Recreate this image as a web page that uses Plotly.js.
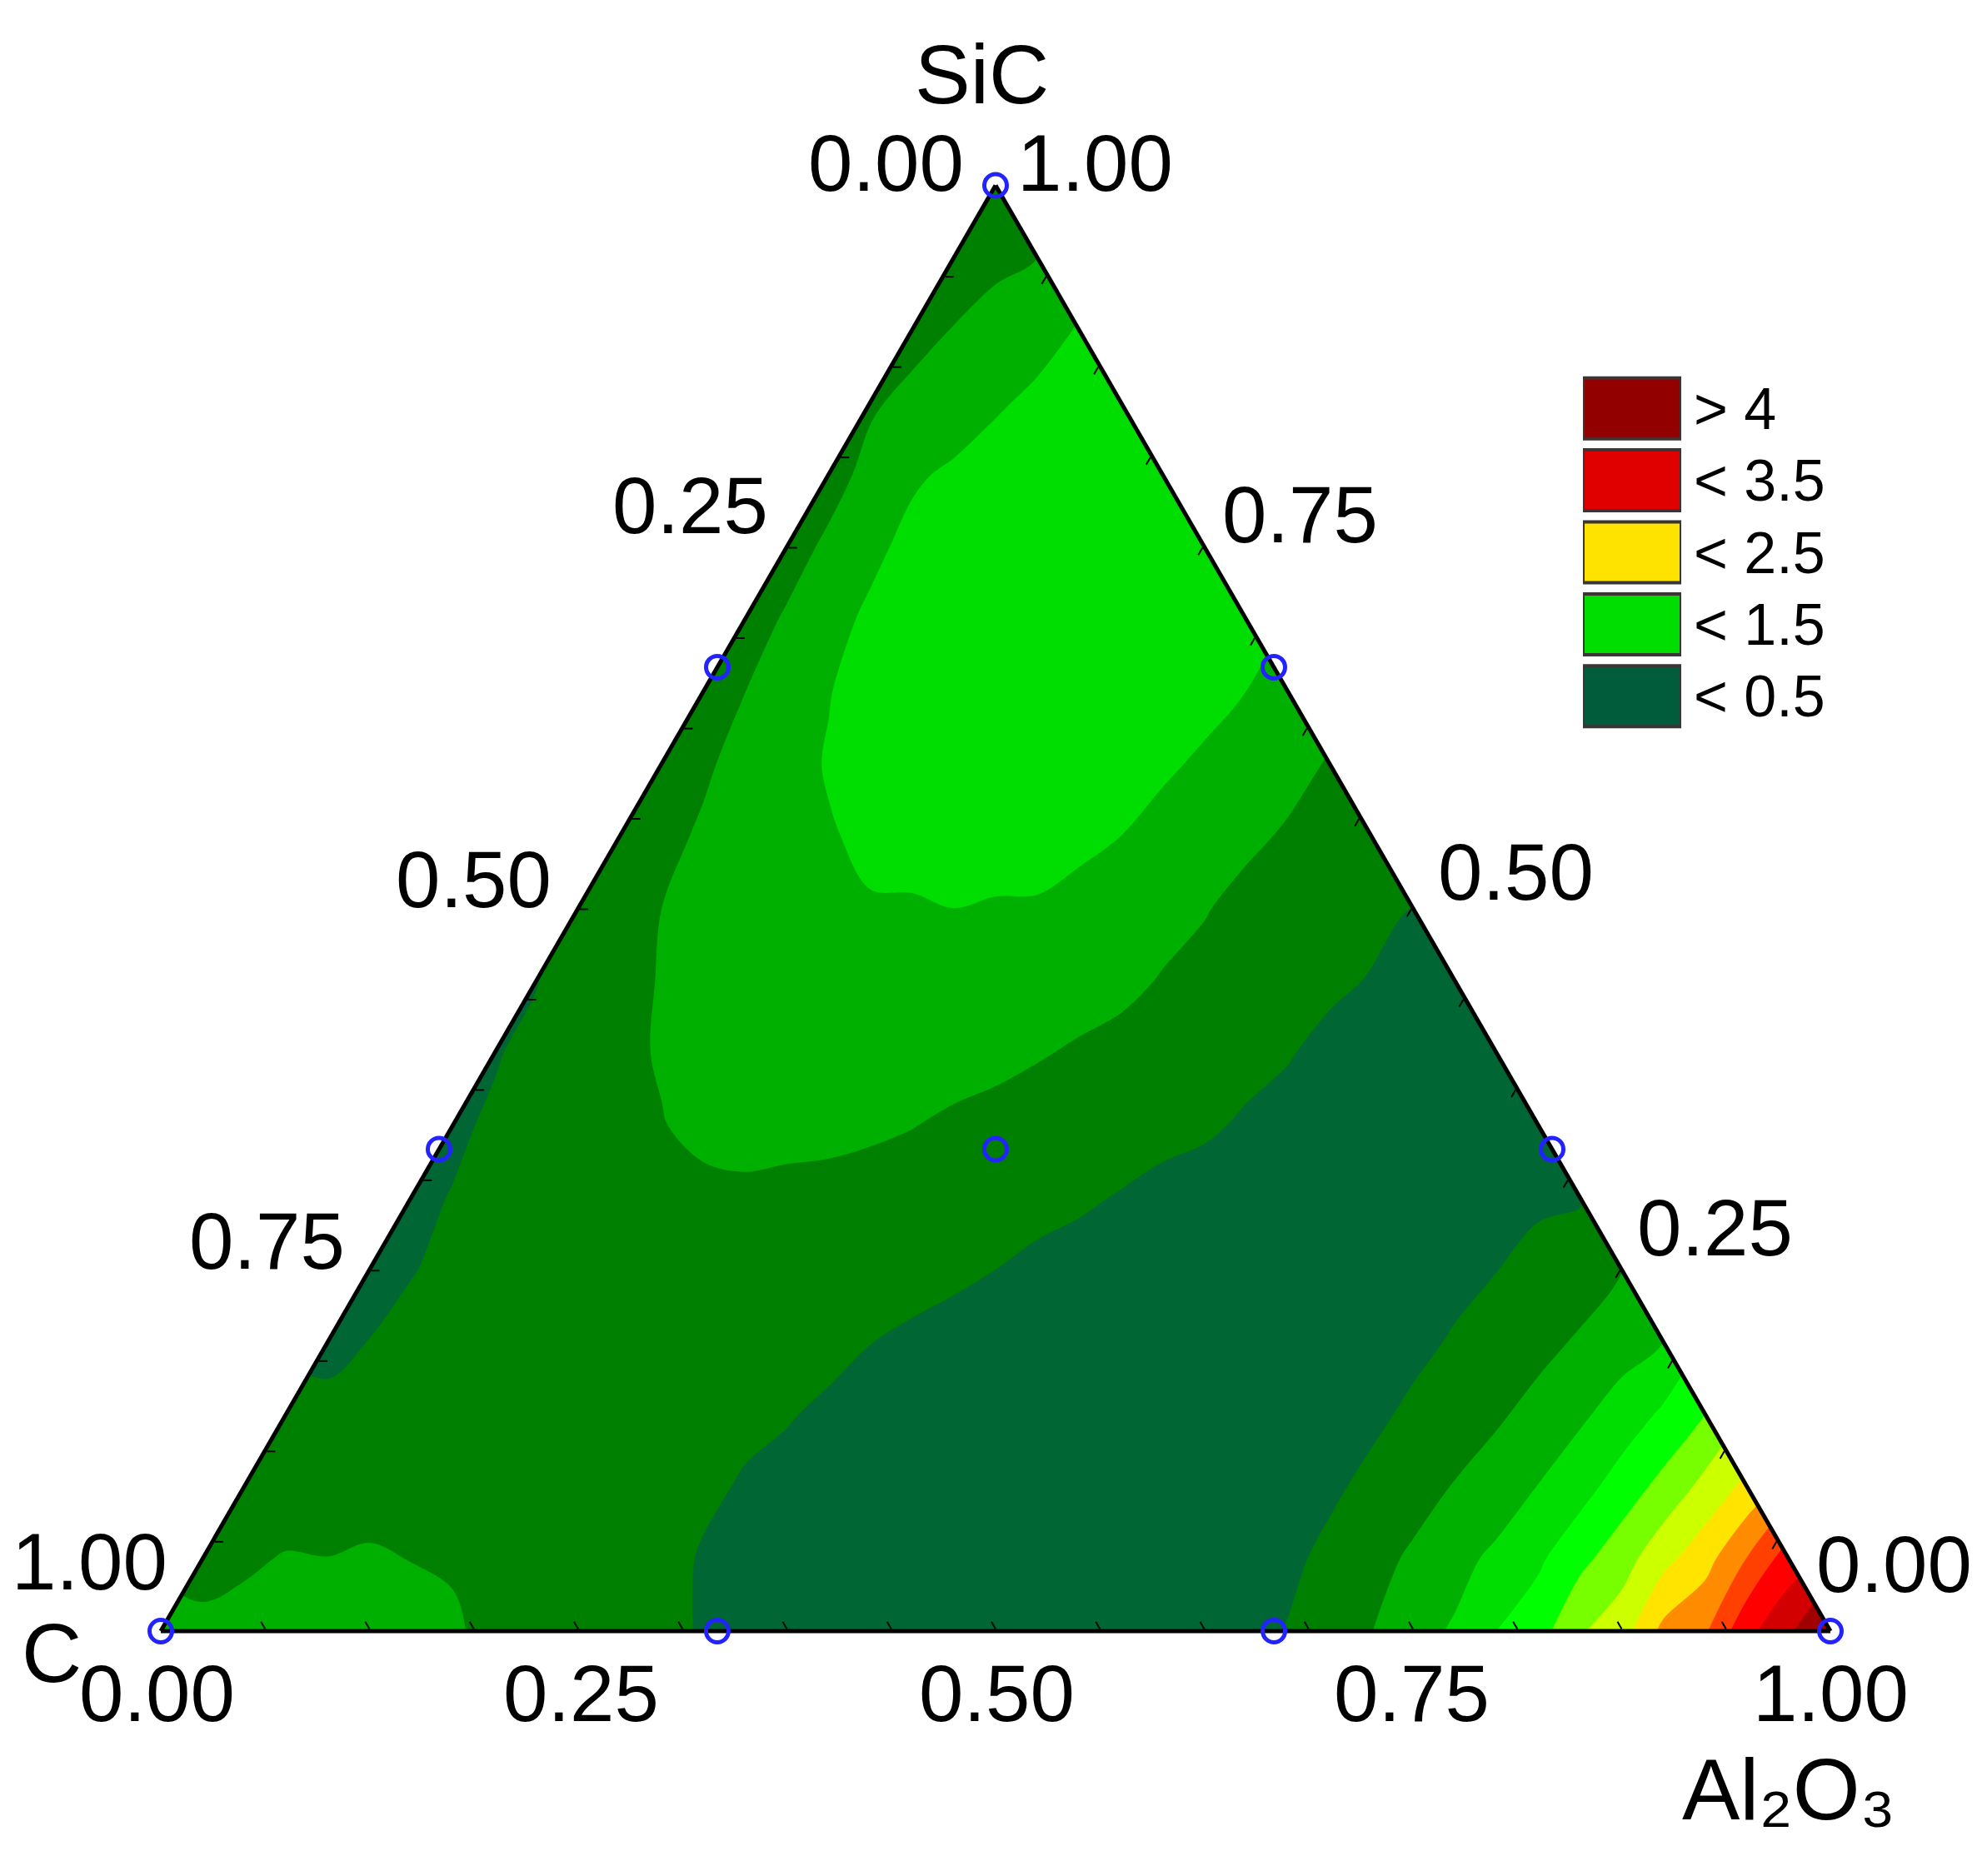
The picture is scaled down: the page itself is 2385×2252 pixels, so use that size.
<!DOCTYPE html>
<html>
<head>
<meta charset="utf-8">
<script src="https://cdn.plot.ly/plotly-3.0.1.min.js"></script>
<style>
  html, body { margin: 0; padding: 0; background: #ffffff; }
  #chart { width: 2385px; height: 2252px; }
</style>
</head>
<body>
<div id="chart"></div>
<script>
// ================= DATA =================
// Ternary lattice: SiC fraction (rows) x Al2O3 fraction (columns); C = 1 - SiC - Al2O3
const sicFractions = [0, 0.05, 0.10, 0.15, 0.20, 0.25, 0.30, 0.35, 0.40, 0.45, 0.50,
                      0.55, 0.60, 0.65, 0.70, 0.75, 0.80, 0.85, 0.90, 0.95, 1.00];
const aluminaFractions = [0, 0.05, 0.10, 0.15, 0.20, 0.25, 0.30, 0.35, 0.40, 0.45, 0.50,
                          0.55, 0.60, 0.65, 0.70, 0.75, 0.80, 0.85, 0.90, 0.95, 1.00];

const zSiC000 = [0.88, 0.90, 0.92, 0.88, 0.77, 0.64, 0.53, 0.45, 0.38, 0.33, 0.30, 0.32, 0.36, 0.42, 0.68, 1.00, 1.40, 1.97, 2.68, 3.42, 4.40];
const zSiC005 = [0.74, 0.82, 0.83, 0.79, 0.66, 0.57, 0.49, 0.42, 0.36, 0.32, 0.29, 0.30, 0.36, 0.44, 0.70, 1.00, 1.35, 1.87, 2.49, 3.35];
const zSiC010 = [0.56, 0.65, 0.68, 0.66, 0.62, 0.56, 0.49, 0.41, 0.35, 0.30, 0.28, 0.28, 0.33, 0.45, 0.68, 0.92, 1.28, 1.79, 2.38];
const zSiC015 = [0.52, 0.62, 0.64, 0.62, 0.58, 0.54, 0.51, 0.44, 0.38, 0.32, 0.28, 0.27, 0.32, 0.44, 0.66, 0.88, 1.22, 1.70];
const zSiC020 = [0.44, 0.56, 0.60, 0.60, 0.57, 0.55, 0.54, 0.47, 0.40, 0.34, 0.30, 0.28, 0.32, 0.43, 0.60, 0.83, 1.10];
const zSiC025 = [0.40, 0.55, 0.60, 0.62, 0.60, 0.58, 0.56, 0.53, 0.45, 0.38, 0.32, 0.29, 0.30, 0.42, 0.60, 0.79];
const zSiC030 = [0.45, 0.58, 0.66, 0.74, 0.77, 0.74, 0.68, 0.62, 0.53, 0.44, 0.37, 0.32, 0.31, 0.36, 0.47];
const zSiC035 = [0.46, 0.62, 0.74, 0.86, 0.87, 0.84, 0.76, 0.68, 0.60, 0.53, 0.44, 0.38, 0.34, 0.36];
const zSiC040 = [0.48, 0.70, 0.82, 0.92, 0.96, 0.95, 0.86, 0.77, 0.68, 0.56, 0.45, 0.39, 0.38];
const zSiC045 = [0.49, 0.72, 0.92, 1.00, 1.05, 1.02, 0.97, 0.86, 0.72, 0.60, 0.49, 0.45];
const zSiC050 = [0.55, 0.80, 0.97, 1.05, 1.08, 1.08, 1.02, 0.88, 0.72, 0.60, 0.50];
const zSiC055 = [0.60, 0.84, 1.00, 1.15, 1.22, 1.22, 1.10, 0.95, 0.77, 0.60];
const zSiC060 = [0.63, 0.90, 1.12, 1.25, 1.30, 1.30, 1.14, 0.98, 0.78];
const zSiC065 = [0.65, 0.98, 1.22, 1.32, 1.36, 1.33, 1.18, 1.02];
const zSiC070 = [0.66, 1.03, 1.25, 1.33, 1.35, 1.30, 1.22];
const zSiC075 = [0.67, 1.05, 1.26, 1.30, 1.30, 1.24];
const zSiC080 = [0.68, 1.07, 1.23, 1.25, 1.22];
const zSiC085 = [0.76, 0.98, 1.16, 1.22];
const zSiC090 = [0.70, 0.88, 1.12];
const zSiC095 = [0.68, 0.80];
const zSiC100 = [0.65];
const zRows = [zSiC000, zSiC005, zSiC010, zSiC015, zSiC020, zSiC025, zSiC030, zSiC035, zSiC040,
               zSiC045, zSiC050, zSiC055, zSiC060, zSiC065, zSiC070, zSiC075, zSiC080, zSiC085,
               zSiC090, zSiC095, zSiC100];

// contour levels and band colours (13 bands)
const contourStart = 0.5;
const contourEnd = 3.8;
const contourStep = 0.3;
const bandColors = ['#006633', '#008000', '#00b000', '#00dd00', '#00ff00', '#77ff00', '#ccff00',
                    '#ffe400', '#ff8c00', '#ff4000', '#ff0000', '#d20000', '#a00000'];

// design points (simplex lattice)
const designSiC   = [1, 0.6667, 0.6667, 0.3333, 0.3333, 0.3333, 0, 0, 0, 0];
const designC     = [0, 0.3333, 0, 0.6667, 0.3333, 0, 1, 0.6667, 0.3333, 0];
const designAl2O3 = [0, 0, 0.3333, 0, 0.3333, 0.6667, 0, 0.3333, 0.6667, 1];

// axis ticks (marks every 1/16, labels every 0.25)
const tickPositions = [0, 0.0625, 0.125, 0.1875, 0.25, 0.3125, 0.375, 0.4375, 0.5,
                       0.5625, 0.625, 0.6875, 0.75, 0.8125, 0.875, 0.9375, 1];
const labelPositions = [0, 0.25, 0.5, 0.75, 1];
const labelText = ['1.00', '0.75', '0.50', '0.25', '0.00'];
// label offsets from the tick point on each edge (px)
const leftLabelDx   = [10, -28, -30, -21, -36];
const leftLabelDy   = [-84, -35, -35, -50, -27];
const rightLabelDx  = [24, 19, 28, 16, -19];
const rightLabelDy  = [-27, -39, -44, -51, -81];
const bottomLabelDx = [0, -2, 1, 3, -5];
const bottomLabelDy = [75, 75, 75, 75, 75];

// legend
const legendLabels = ['> 4', '< 3.5', '< 2.5', '< 1.5', '< 0.5'];
const legendColors = ['#930000', '#e00000', '#ffe300', '#00dd00', '#005c3a'];
const legendBoxLength = [1, 1, 1, 1, 1];

// vertex names
const vertexTop = 'SiC';
const vertexLeft = 'C';
const vertexRight = 'Al\u2082O\u2083';

// ================= BUILD =================
const W = 2385, H = 2252;
const FONT = "'Liberation Sans Narrow', 'Arial Narrow', 'Liberation Sans', Arial, sans-serif";
const LABEL_SIZE = 96;

const triLeft = 193, triWidth = 2004, triBase = 1958;
const triHeight = triWidth * Math.sqrt(3) / 2;
const P_LEFT = [triLeft, triBase];
const P_RIGHT = [triLeft + triWidth, triBase];
const P_APEX = [triLeft + triWidth / 2, triBase - triHeight];

// ternary domain (exactly the triangle)
const terX = [triLeft / W, (triLeft + triWidth) / W];
const terY = [1 - triBase / H, 1 - (triBase - triHeight) / H];
// cartesian overlay with a small margin so the field edges sit inside the plot area
const PADU = 0.03;
const carX = [(triLeft - PADU * triWidth) / W, (triLeft + (1 + PADU) * triWidth) / W];
const carY = [1 - (triBase + PADU * triHeight) / H, 1 - (triBase - (1 + PADU) * triHeight) / H];

// map ternary lattice to cartesian (x = Al2O3 + SiC/2, y = SiC)
const cx = [], cy = [], cz = [];
zRows.forEach(function (row, i) {
  const s = sicFractions[i];
  row.forEach(function (v, j) {
    const a = aluminaFractions[j];
    cx.push(Math.round((a + s / 2) * 10000) / 10000);
    cy.push(s);
    cz.push(v);
  });
});

const nBands = bandColors.length;
const colorscale = bandColors.map(function (c, i) { return [i / (nBands - 1), c]; });

const contourTrace = {
  type: 'contour',
  x: cx, y: cy, z: cz,
  xaxis: 'x', yaxis: 'y',
  connectgaps: true,
  autocontour: false,
  contours: { start: contourStart, end: contourEnd, size: contourStep, coloring: 'fill', showlines: false },
  colorscale: colorscale,
  showscale: false,
  line: { width: 0 },
  hoverinfo: 'skip'
};

// white masks over the parts of the cartesian box that lie outside the triangle
const maskLeft = {
  type: 'scatter', mode: 'lines', xaxis: 'x', yaxis: 'y',
  x: [0, 0.5, 0.5, -0.2, -0.2, 0], y: [0, 1, 1.2, 1.2, 0, 0],
  fill: 'toself', fillcolor: '#ffffff', line: { width: 0, color: 'rgba(0,0,0,0)' },
  hoverinfo: 'skip', showlegend: false
};
const maskRight = {
  type: 'scatter', mode: 'lines', xaxis: 'x', yaxis: 'y',
  x: [1, 0.5, 0.5, 1.2, 1.2, 1], y: [0, 1, 1.2, 1.2, 0, 0],
  fill: 'toself', fillcolor: '#ffffff', line: { width: 0, color: 'rgba(0,0,0,0)' },
  hoverinfo: 'skip', showlegend: false
};

const designTrace = {
  type: 'scatterternary',
  mode: 'markers',
  a: designSiC, b: designC, c: designAl2O3,
  marker: { symbol: 'circle-open', size: 27, color: '#2323ff', line: { width: 5 } },
  cliponaxis: false,
  hoverinfo: 'skip',
  showlegend: false
};

const legendTrace = {
  type: 'bar', orientation: 'h',
  x: legendBoxLength, y: legendLabels,
  xaxis: 'x2', yaxis: 'y2',
  marker: { color: legendColors, line: { color: '#3b3535', width: 4 } },
  cliponaxis: false,
  hoverinfo: 'skip',
  showlegend: false
};

const axisCommon = {
  tickmode: 'array', tickvals: tickPositions,
  ticks: 'inside', ticklen: 10, tickwidth: 2, tickcolor: '#000000',
  showticklabels: false,
  showgrid: false, showline: true, linecolor: '#000000', linewidth: 5,
  layer: 'below traces', min: 0,
  title: { text: '' }
};

// tick-label annotations placed along each edge
function lerp(p, q, t) { return [p[0] + (q[0] - p[0]) * t, p[1] + (q[1] - p[1]) * t]; }
function paperAnn(text, px, py, xanchor, size) {
  return { text: text, x: px / W, y: 1 - py / H, xref: 'paper', yref: 'paper', showarrow: false,
           xanchor: xanchor, yanchor: 'middle', font: { family: FONT, size: size, color: '#000000' } };
}
const annotations = [];
labelPositions.forEach(function (v, i) {
  // left edge: a-axis (SiC) position; label shows C fraction
  const pl = lerp(P_LEFT, P_APEX, v);
  annotations.push(paperAnn(labelText[i], pl[0] + leftLabelDx[i], pl[1] + leftLabelDy[i], 'right', LABEL_SIZE));
  // right edge: c-axis (Al2O3) position; label shows SiC fraction
  const pr = lerp(P_APEX, P_RIGHT, v);
  annotations.push(paperAnn(labelText[i], pr[0] + rightLabelDx[i], pr[1] + rightLabelDy[i], 'left', LABEL_SIZE));
  // bottom edge: b-axis (C) position; label shows Al2O3 fraction
  const pb = lerp(P_RIGHT, P_LEFT, v);
  annotations.push(paperAnn(labelText[i], pb[0] + bottomLabelDx[i], pb[1] + bottomLabelDy[i], 'center', LABEL_SIZE));
});
annotations.push(paperAnn(vertexTop, P_APEX[0] - 17, 89, 'center', 100));
annotations.push(paperAnn(vertexLeft, 62, 1984, 'center', 100));
annotations.push(paperAnn(vertexRight, 2147, 2148, 'center', 104));

const layout = {
  width: W, height: H,
  margin: { l: 0, r: 0, t: 0, b: 0, pad: 0 },
  paper_bgcolor: '#ffffff', plot_bgcolor: 'rgba(0,0,0,0)',
  showlegend: false, hovermode: false,
  font: { family: FONT, color: '#000000' },
  xaxis: { domain: carX, range: [-PADU, 1 + PADU], visible: false, fixedrange: true },
  yaxis: { domain: carY, range: [-PADU, 1 + PADU], visible: false, fixedrange: true },
  xaxis2: { domain: [1900 / W, 2018 / W], range: [0, 1], visible: false, anchor: 'y2', fixedrange: true },
  yaxis2: {
    domain: [1 - 879 / H, 1 - 447 / H], type: 'category', autorange: 'reversed',
    tickmode: 'array', tickvals: legendLabels, ticktext: legendLabels,
    side: 'right', anchor: 'x2', showgrid: false, zeroline: false, showline: false,
    ticks: '', ticklabelstandoff: 14,
    tickfont: { family: FONT, size: 70, color: '#000000' }, fixedrange: true
  },
  bargap: 0.155,
  ternary: {
    domain: { x: terX, y: terY },
    sum: 1,
    bgcolor: 'rgba(0,0,0,0)',
    aaxis: Object.assign({}, axisCommon),
    baxis: Object.assign({}, axisCommon),
    caxis: Object.assign({}, axisCommon)
  },
  annotations: annotations
};

Plotly.newPlot('chart', [contourTrace, maskLeft, maskRight, designTrace, legendTrace], layout,
  { staticPlot: true, displayModeBar: false });
</script>
</body>
</html>
